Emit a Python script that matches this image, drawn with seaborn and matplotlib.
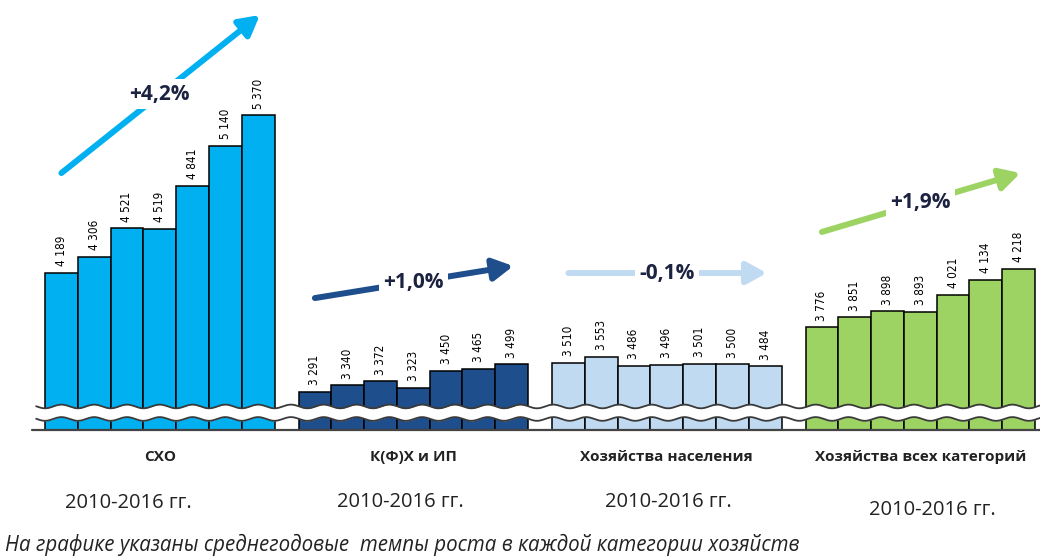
import numpy as np
import pandas as pd
import seaborn as sns
import matplotlib.pyplot as plt
from matplotlib import font_manager

# data
years = [2010, 2011, 2012, 2013, 2014, 2015, 2016]
groups = ["СХО", "К(Ф)Х и ИП", "Хозяйства населения", "Хозяйства всех категорий"]
sho = [4189, 4306, 4521, 4519, 4841, 5140, 5370]
kfh = [3291, 3340, 3372, 3323, 3450, 3465, 3499]
naselenie = [3510, 3553, 3486, 3496, 3501, 3500, 3484]
vse = [3776, 3851, 3898, 3893, 4021, 4134, 4218]
growth = ["+4,2%", "+1,0%", "-0,1%", "+1,9%"]
period = "2010-2016 гг."
note = "На графике указаны среднегодовые  темпы роста в каждой категории хозяйств"

colors = ["#00B0F0", "#1F4E8C", "#C0DAF2", "#9CD363"]

# layout
gap = 0.73
step = len(years) + gap
arrow_y = [(4937, 6125), (3997, 4238), (4185, 4185), (4494, 4937)]
year_dx = [-0.97, -0.38, 0.06, 0.38]
year_y = [-0.170, -0.167, -0.167, -0.186]

sns.set_theme(style="white")
have = {f.name for f in font_manager.fontManager.ttflist}
narrow = "Liberation Sans Narrow" if "Liberation Sans Narrow" in have else "DejaVu Sans"
plt.rcParams["font.family"] = ["Open Sans", "DejaVu Sans"]

rows = []
for g, vals in enumerate([sho, kfh, naselenie, vse]):
    for i, (yr, v) in enumerate(zip(years, vals)):
        rows.append({"group": groups[g], "year": yr, "pos": g * step + i, "value": v})
df = pd.DataFrame(rows)

fig = plt.figure(figsize=(10.4, 5.6), dpi=100)
ax = fig.add_axes([0, 130 / 560, 1, 430 / 560])

sns.barplot(data=df, x="pos", y="value", hue="group", palette=colors,
            native_scale=True, width=1, dodge=False, errorbar=None, saturation=1,
            edgecolor="black", linewidth=1.1, legend=False, ax=ax, zorder=2)

ymin, ymax = 3005, 6238
ax.set_ylim(ymin, ymax)
ax.set_xlim(-1.872, 29.84)
ax.set_axis_off()

# value labels
for _, r in df.iterrows():
    ax.text(r["pos"], r["value"] + 50, f"{r['value']:,}".replace(",", " "),
            rotation=90, ha="center", va="bottom", fontsize=8.5,
            family=narrow, fontstretch="condensed", color="black")

# broken axis band
xs = np.linspace(-0.77, 29.84, 1500)
wave = 14 * np.sin(2 * np.pi * (xs + 0.25))
upper = 3182 + wave
lower = 3088 + wave
ax.fill_between(xs, lower, upper, color="white", zorder=3, lw=0)
ax.plot(xs, upper, color="#3a3a3a", lw=1.3, zorder=4)
ax.plot(xs, lower, color="#3a3a3a", lw=1.3, zorder=4)
ax.axhline(ymin, xmin=32 / 1040, xmax=1, color="#444444", lw=1.6, clip_on=False, zorder=5)

# growth arrows and labels
xt = ax.get_xaxis_transform()
for g in range(4):
    cx = g * step + 3
    y0, y1 = arrow_y[g]
    ax.annotate("", xy=(cx + 3.05, y1), xytext=(cx - 3.0, y0),
                arrowprops=dict(arrowstyle="-|>,head_length=1.0,head_width=0.55",
                                lw=4.3, color=colors[g], shrinkA=0, shrinkB=0),
                zorder=5)
    ax.text(cx, (y0 + y1) / 2, growth[g], ha="center", va="center",
            fontsize=15, fontweight="bold", color="#1c2340", zorder=6,
            bbox=dict(facecolor="white", edgecolor="none", pad=3))
    ax.text(cx, -0.063, groups[g], transform=xt, ha="center", va="center",
            fontsize=11, fontweight="bold", color="#222222")
    ax.text(cx + year_dx[g], year_y[g], period, transform=xt, ha="center",
            va="center", fontsize=14.5, color="#222222")

fig.text(5 / 1040, 1 - 545 / 560, note, ha="left", va="center",
         fontsize=14.8, style="italic", color="#222222")

fig.savefig("out.png", dpi=100)
